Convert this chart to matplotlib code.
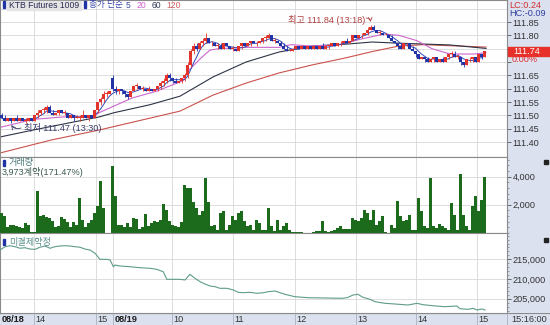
import numpy as np
import pandas as pd
import matplotlib
matplotlib.use('Agg')
import matplotlib.pyplot as plt
from matplotlib.patches import Rectangle
from matplotlib.ticker import MultipleLocator, FixedLocator, FixedFormatter

plt.rcParams['font.family'] = ['Liberation Sans', 'Noto Sans CJK KR', 'DejaVu Sans']
plt.rcParams['font.size'] = 6.6

W, H = 550, 325

# KTB Futures 1009, 3분봉 (08/18 오후 ~ 08/19 15:15)
# 가격: 111.00 위 틱(0.01) 수
opens = [50, 49, 48, 49, 48, 49, 48, 49, 48, 48, 49, 48,
         50, 51, 52, 52, 53, 51, 50, 51, 52, 51, 51, 49,
         50, 49, 49, 49, 50, 49, 50, 49, 52, 55, 56, 58, 58,
         64, 60, 59, 60, 59, 58, 57, 59, 61, 61, 60, 60,
         59, 60, 59, 60, 61, 62, 63, 65, 64, 63, 62, 63,
         64, 65, 69, 74, 76, 75, 77, 78, 79, 77, 77, 76,
         76, 75, 77, 76, 75, 75, 74, 76, 77, 76, 77, 78,
         77, 77, 78, 79, 79, 80, 78, 78, 77, 76, 75, 74,
         74, 75, 76, 75, 76, 75, 76, 75, 76, 75, 76, 75,
         76, 76, 77, 76, 77, 77, 78, 77, 78, 80, 79, 80,
         80, 81, 82, 83, 82, 81, 81, 80, 80, 79, 78, 77,
         76, 75, 77, 77, 75, 74, 73, 71, 72, 71, 70, 71,
         72, 70, 71, 70, 72, 73, 73, 72, 72, 70, 69, 71,
         71, 72, 70, 73, 72]
highs = [51, 50, 49, 49, 49, 50, 49, 49, 49, 49, 49, 50,
         52, 52, 53, 54, 54, 52, 51, 52, 52, 52, 51, 50,
         50, 50, 50, 52, 50, 50, 50, 52, 55, 57, 59, 59, 59,
         65, 61, 60, 60, 59, 58, 59, 61, 62, 61, 61, 60,
         61, 60, 60, 61, 63, 64, 66, 66, 64, 64, 63, 64,
         66, 70, 75, 77, 77, 78, 79, 81, 79, 78, 77, 77,
         77, 77, 77, 76, 76, 75, 76, 77, 77, 77, 78, 78,
         78, 78, 79, 80, 81, 80, 79, 78, 78, 77, 76, 75,
         75, 76, 76, 76, 76, 76, 76, 76, 76, 76, 77, 76,
         76, 77, 77, 77, 78, 78, 79, 78, 80, 80, 80, 81,
         81, 83, 84, 84, 82, 82, 81, 81, 80, 80, 78, 77,
         77, 77, 77, 77, 76, 74, 73, 72, 72, 72, 71, 72,
         72, 71, 72, 72, 73, 74, 74, 73, 72, 70, 71, 72,
         72, 72, 73, 73, 74]
lows = [49, 48, 48, 47, 48, 48, 48, 48, 47, 48, 48, 48,
        49, 50, 51, 51, 51, 50, 50, 50, 51, 50, 49, 49,
        48, 49, 48, 49, 49, 48, 49, 49, 51, 54, 55, 57, 58,
        59, 58, 58, 58, 57, 56, 57, 59, 60, 60, 59, 59,
        59, 59, 59, 59, 60, 61, 62, 63, 62, 62, 62, 62,
        63, 64, 68, 73, 74, 75, 76, 77, 77, 76, 76, 75,
        75, 75, 76, 75, 74, 74, 74, 75, 76, 76, 76, 77,
        76, 77, 77, 78, 79, 78, 77, 77, 76, 75, 74, 74,
        74, 75, 75, 75, 75, 75, 75, 75, 75, 75, 75, 75,
        75, 76, 76, 76, 76, 77, 77, 77, 78, 79, 79, 79,
        80, 80, 82, 82, 81, 80, 80, 80, 79, 78, 77, 75,
        75, 75, 76, 75, 74, 72, 71, 71, 70, 70, 70, 70,
        70, 70, 70, 70, 71, 72, 72, 71, 69, 68, 69, 70,
        70, 70, 70, 71, 72]
closes = [49, 48, 49, 48, 49, 48, 49, 48, 48, 49, 48, 50,
          51, 52, 52, 53, 51, 50, 51, 52, 51, 51, 49, 50,
          49, 49, 49, 50, 49, 50, 49, 52, 55, 56, 58, 58, 59,
          60, 59, 60, 59, 58, 57, 59, 61, 61, 60, 60, 59,
          60, 59, 60, 61, 62, 63, 65, 64, 63, 62, 63, 64,
          65, 69, 74, 76, 75, 77, 78, 79, 77, 77, 76, 76,
          75, 77, 76, 75, 75, 74, 76, 77, 76, 77, 78, 77,
          77, 78, 79, 79, 80, 78, 78, 77, 76, 75, 74, 74,
          75, 76, 75, 76, 75, 76, 75, 76, 75, 76, 75, 76,
          76, 77, 76, 77, 77, 78, 77, 78, 80, 79, 80, 80,
          81, 82, 83, 82, 81, 81, 80, 80, 79, 78, 77, 76,
          75, 77, 77, 75, 74, 73, 71, 72, 71, 70, 71, 72,
          70, 71, 70, 72, 73, 73, 72, 72, 70, 69, 71, 71,
          72, 70, 73, 72, 74]
volume = [1400, 1200, 450, 600, 600, 500, 450, 350, 700, 600, 50, 50,
          2950, 1200, 1250, 1150, 1050, 850, 450, 500, 1100, 1000, 800, 450,
          800, 600, 2500, 900, 400, 700, 950, 1450, 1900, 3700, 1800, 30, 20,
          4750, 2600, 600, 550, 400, 700, 450, 1050, 1000, 300, 400, 1350,
          500, 700, 850, 750, 950, 2050, 1650, 850, 550, 500, 400, 750,
          3420, 3190, 3190, 2200, 1770, 1300, 1530, 3900, 2200, 470, 590, 240,
          1420, 1530, 240, 590, 1180, 940, 1420, 1530, 830, 470, 590, 240,
          940, 710, 240, 240, 1770, 470, 165, 940, 240, 470, 710, 240,
          70, 70, 70, 50, 30, 20, 20, 70, 120, 170, 870, 120,
          70, 120, 240, 350, 470, 280, 300, 300, 1060, 900, 830, 1060,
          1650, 1420, 940, 1650, 590, 830, 1180, 70, 30, 590, 350, 2240,
          1180, 830, 940, 1300, 240, 240, 2480, 1530, 470, 350, 3900, 470,
          350, 640, 470, 350, 240, 2120, 1300, 240, 4180, 1300, 470, 240,
          1890, 2600, 1530, 2360, 3973]

# 이동평균 (봉 위치, 값)
ma20_bar = [0, 11, 22, 31, 33, 39, 44, 52, 61, 63, 67, 70, 73, 82, 93, 97,
            104, 113, 120, 128, 133, 139, 144, 150, 158, 162]
ma20_val = [111.455, 111.485, 111.495, 111.495, 111.51, 111.54, 111.565, 111.59,
            111.63, 111.67, 111.715, 111.745, 111.75, 111.755, 111.755, 111.765,
            111.76, 111.765, 111.785, 111.805, 111.80, 111.78, 111.75, 111.73,
            111.73, 111.735]
ma60_bar = [0, 11, 33, 38, 50, 60, 71, 82, 93, 104, 116, 124, 132, 141, 150, 162]
ma60_val = [111.419, 111.445, 111.494, 111.51, 111.54, 111.572, 111.644, 111.70,
            111.7375, 111.76, 111.7675, 111.775, 111.771, 111.7675, 111.764, 111.751]
ma120_bar = [0, 17, 33, 60, 71, 82, 93, 104, 115, 124, 133, 141, 162]
ma120_val = [111.359, 111.4075, 111.445, 111.516, 111.576, 111.621, 111.659,
             111.689, 111.715, 111.739, 111.76, 111.765, 111.756]

# 미결제약정
oi_bar = [0, 1.7, 3.3, 5, 6.7, 8.3, 10, 11.7, 13.3, 15, 16.7, 18.3, 20, 21.7,
          23.3, 25, 26.7, 28.3, 30, 31.7, 33.3, 35.6, 36.7, 37.8, 38.3, 40,
          43.3, 46.7, 50, 52.2, 54.4, 55.6, 57.8, 60, 61.7, 63.3, 65, 66.7,
          68.3, 70, 71.7, 73.3, 75.6, 77.8, 79.4, 81.1, 83.3, 85.6, 87.8, 89.4,
          91.7, 95, 98.3, 102.7, 108.3, 114, 115.7, 117.7, 119.3, 121, 123.3,
          125, 128.3, 131.7, 136, 139, 141, 144.3, 148.3, 152.3, 153.3, 156,
          157.7, 159, 160.7, 161.7]
oi_val = [217360, 218200, 218450, 218200, 217800, 217950, 217600, 217530,
          218050, 218380, 217800, 218200, 218380, 218450, 218380, 218200,
          218050, 217600, 217360, 216520, 215000, 215000, 214820, 213120,
          213550, 213300, 213120, 212870, 212710, 212460, 211850, 209920,
          209920, 209920, 209750, 211190, 210180, 209320, 208730, 208220,
          208050, 207640, 207640, 207210, 206620, 206520, 206620, 206370,
          206520, 206780, 206950, 206110, 205510, 205250, 205180, 205100,
          205250, 205940, 206110, 205350, 204850, 204240, 203830, 203650,
          203400, 203830, 203480, 203220, 202970, 203150, 202460, 202310,
          202560, 202130, 202390, 202130]

time_labels = ['08/18', '14', '15', '08/19', '10', '11', '12', '13', '14', '15']
time_pos = [0, 11.33, 32.0, 37.67, 57.33, 77.67, 98.33, 118.67, 138.67, 159.0]
date_labels = ['08/18', '08/19']

price_ticks = [111.40, 111.45, 111.50, 111.55, 111.60, 111.65, 111.70, 111.75, 111.80, 111.85]
price_hidden = [111.70, 111.75]
vol_ticks = [2000, 4000]
oi_ticks = [205000, 210000, 215000]

RED = '#e3342b'
BLUE = '#2233a6'
GREEN = '#1c6a1c'

o = 111 + np.array(opens) / 100
h = 111 + np.array(highs) / 100
l = 111 + np.array(lows) / 100
c = 111 + np.array(closes) / 100
x = np.arange(len(c)) + 0.5
ma5 = pd.Series(c).rolling(5, min_periods=1).mean()

fig = plt.figure(figsize=(W / 100, H / 100), dpi=100, facecolor='#dbe1ee')
renderer = fig.canvas.get_renderer()


def fx(px):
    return px / W


def fy(py):
    return 1 - py / H


def ftext(px, py, s, **kw):
    kw.setdefault('va', 'center')
    return fig.text(fx(px), fy(py), s, **kw)


def fbox(px, py, w, hh, color, **kw):
    fig.patches.append(Rectangle((fx(px), fy(py + hh)), w / W, hh / H,
                                 transform=fig.transFigure, color=color, **kw))


def twidth(t):
    return t.get_window_extent(renderer=renderer).width


ax_p = fig.add_axes([0, fy(157), fx(507), 157 / H])
ax_v = fig.add_axes([0, fy(233), fx(507), 76 / H])
ax_o = fig.add_axes([0, fy(313), fx(507), 80 / H])

for ax in (ax_p, ax_v, ax_o):
    ax.set_facecolor('white')
    ax.set_xlim(0, 169)
    ax.yaxis.tick_right()
    ax.tick_params(axis='y', direction='out', length=3, width=0.6, color='#555555',
                   labelsize=6.6, labelcolor='#333333', pad=1)
    ax.tick_params(axis='y', which='minor', direction='out', length=1.5, width=0.5,
                   color='#777777')
    ax.set_xticks(time_pos[1:])
    ax.tick_params(axis='x', length=0, labelbottom=False)
    ax.grid(True, color='#d8d8d8', lw=0.6)
    ax.set_axisbelow(True)
    for s in ax.spines.values():
        s.set_color('#8a8a8a')
        s.set_linewidth(0.8)

# 가격
ax_p.set_ylim(111.344, 111.9325)
ax_p.yaxis.set_major_locator(FixedLocator(price_ticks))
ax_p.yaxis.set_major_formatter(FixedFormatter(
    ['' if p in price_hidden else '%.2f' % p for p in price_ticks]))
ax_p.axhline(111.90, color='#d8d8d8', lw=0.6, zorder=0)

ax_p.plot(ma120_bar, ma120_val, color='#c9524c', lw=0.8, zorder=2)
ax_p.plot(ma60_bar, ma60_val, color='#2d3446', lw=0.8, zorder=2)
ax_p.plot(ma20_bar, ma20_val, color='#cc66cc', lw=0.8, zorder=2)
ax_p.plot(x, ma5, color='#3348b8', lw=0.7, zorder=2)

col = np.where(c >= o, RED, BLUE)
ax_p.vlines(x, l, h, colors=col, lw=0.6, zorder=3)
ax_p.bar(x, np.maximum(np.abs(c - o), 0.003), width=0.7, bottom=np.minimum(o, c),
         color=col, lw=0, zorder=4)

# 최고/최저 표시
t = ftext(288, 20, '최고 111.84 (13:18)', color='#b04040')
end = 288 + twidth(t) + 1
ax_p.annotate('', xy=(x[123], 111.845), xycoords='data',
              xytext=(fx(end), fy(18)), textcoords='figure fraction',
              arrowprops=dict(arrowstyle='->', color='#b04040', lw=0.6,
                              connectionstyle='arc3,rad=-0.5', shrinkA=0, shrinkB=1))
ftext(24, 128, '최저 111.47 (13:30)', color='#3a3a6a')
ax_p.annotate('', xy=(x[3], 111.468), xycoords='data',
              xytext=(fx(21), fy(128)), textcoords='figure fraction',
              arrowprops=dict(arrowstyle='->', color='#3a3a6a', lw=0.6,
                              connectionstyle='arc3,rad=-0.4', shrinkA=0, shrinkB=1))

# 거래량
ax_v.bar(x, volume, width=0.9, color=GREEN, lw=0, zorder=3)
ax_v.set_ylim(0, 5390)
ax_v.set_yticks(vol_ticks)
ax_v.set_yticklabels(['{:,}'.format(v) for v in vol_ticks])
ax_v.yaxis.set_minor_locator(MultipleLocator(400))

# 미결제약정
ax_o.plot(oi_bar, oi_val, color='#5e9c8a', lw=0.8, zorder=3)
ax_o.set_ylim(201370, 221675)
ax_o.set_yticks(oi_ticks)
ax_o.set_yticklabels(['{:,}'.format(v) for v in oi_ticks])
ax_o.yaxis.set_minor_locator(MultipleLocator(1000))

# 범례: 글자 폭을 재어 차례로 배치
LEG = 6.2
fbox(2.5, 1.5, 2, 6.5, BLUE)
t = ftext(9, 5, 'KTB Futures 1009', color='#2a2a55', fontsize=LEG)
wpx = twidth(t)
fbox(7, 0.5, wpx + 4, 9, '#e4e4e4')
px = 7 + wpx + 4 + 3
fbox(px, 1.5, 2, 6.5, BLUE)
px += 5
for s, cc, gap in [('종가 단순', '#3a48a8', 3), ('5', '#3a48a8', 6),
                   ('20', '#d060d0', 5), ('60', '#2c3550', 5), ('120', '#d06060', 0)]:
    t = ftext(px, 5, s, color=cc, fontsize=LEG)
    px += twidth(t) + gap

ftext(509, 5, 'LC:0.24', color='#d03030')
ftext(509, 13, 'HC:-0.09', color='#3040a0')
fbox(508, 46.5, 42, 9, '#e8302a')
ftext(513, 51, '111.74', color='white')
ftext(512, 60, '0.00%', color='#e03030')

fbox(2.5, 160, 2, 6, BLUE)
ftext(9, 163, '거래량', color='#4a7a78')
ftext(2, 172, '3,973계약(171.47%)', color='#3c5a52')
fbox(544, 160, 4, 4, '#222222')

fbox(2.5, 239, 2, 6, BLUE)
ftext(9, 242, '미결제약정', color='#5a908c')
fbox(544, 238, 4, 4, '#222222')

# 시간 축
ax_t = fig.add_axes([0, 0, 1, 12 / H])
ax_t.set_xlim(0, W / 3)
ax_t.set_ylim(0, 1)
ax_t.axis('off')
ax_t.axhline(1, color='#8a8a8a', lw=0.8)
ax_t.vlines(time_pos[1:] + [169], 0, 1, color='#a8afc0', lw=0.6)
for lab, pos in zip(time_labels, time_pos):
    ax_t.text(pos + 0.6, 0.45, lab, ha='left', va='center', fontsize=6.6,
              color='#1a1a1a' if lab in date_labels else '#333333',
              weight='bold' if lab in date_labels else 'normal')
ax_t.text(170.3, 0.45, '15:16:00', ha='left', va='center', fontsize=6.6, color='#333333')

fig.savefig('out.png', dpi=100, facecolor=fig.get_facecolor())
